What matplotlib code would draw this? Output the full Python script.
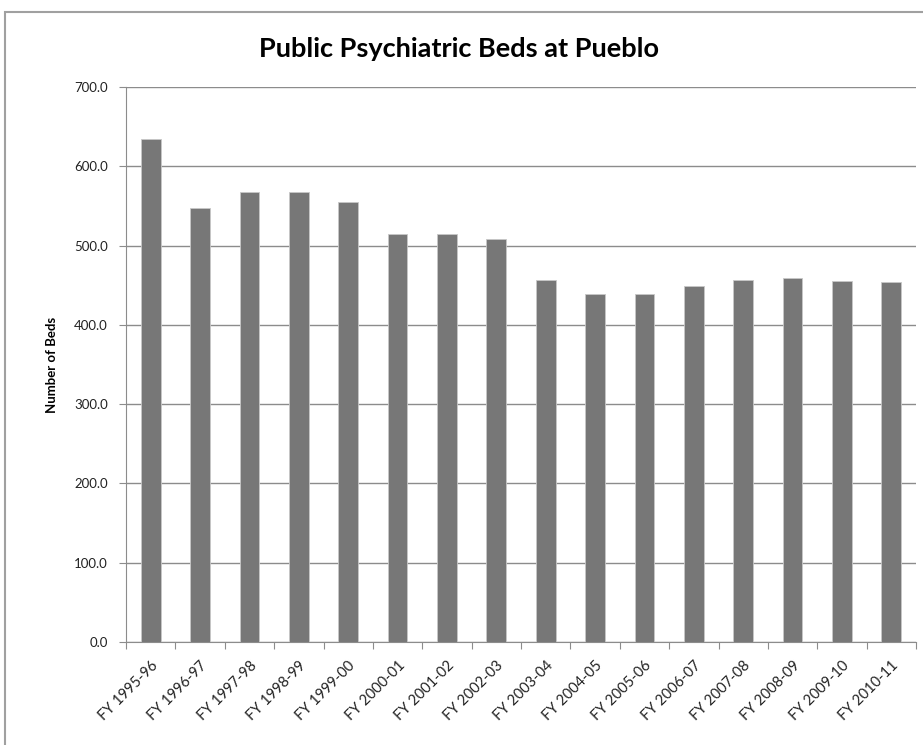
import numpy as np
import matplotlib
matplotlib.use('Agg')
import matplotlib.pyplot as plt
from matplotlib.patches import Rectangle

# data
years = ['FY 1995-96', 'FY 1996-97', 'FY 1997-98', 'FY 1998-99', 'FY 1999-00',
         'FY 2000-01', 'FY 2001-02', 'FY 2002-03', 'FY 2003-04', 'FY 2004-05',
         'FY 2005-06', 'FY 2006-07', 'FY 2007-08', 'FY 2008-09', 'FY 2009-10',
         'FY 2010-11']
beds = [635, 548, 568, 568, 555, 514, 514, 508, 457, 439, 439, 449, 457, 459, 455, 454]
yticks = [0, 100, 200, 300, 400, 500, 600, 700]

plt.rcParams['font.family'] = ['Lato', 'DejaVu Sans']

fig = plt.figure(figsize=(9.23, 7.45), dpi=100)
ax = fig.add_axes([126/923, 1 - 642/745, (916 - 126)/923, (642 - 87)/745])

# outer chart frame
fig.patches.append(Rectangle((5/923, -0.05), 1.2, (745 - 12)/745 + 0.05,
                             transform=fig.transFigure, fill=False,
                             edgecolor='#a0a0a0', linewidth=1.5))

x = np.arange(len(years))
ax.bar(x, beds, width=0.4, color='#777777', edgecolor='#c8c8c8', linewidth=0.6, zorder=3)

ax.set_xlim(-0.5, len(years) - 0.5)
ax.set_ylim(0, 700)
ax.set_yticks(yticks)
ax.set_yticklabels(['%.1f' % v for v in yticks], fontsize=9.5, color='#222222')
ax.yaxis.grid(True, color='#8c8c8c', linewidth=1, zorder=0)

# ticks between categories, labels at the centres
ax.set_xticks(np.arange(len(years) + 1) - 0.5)
ax.set_xticklabels([])
ax.set_xticks(x, minor=True)
ax.set_xticklabels(years, minor=True, rotation=45, ha='right',
                   rotation_mode='anchor', fontsize=10.5, color='#222222')
ax.tick_params(axis='x', which='minor', length=0, pad=12)
ax.tick_params(axis='x', which='major', length=5, color='#8c8c8c')
ax.tick_params(axis='y', length=5, color='#8c8c8c', pad=8)

for s in ['top', 'right']:
    ax.spines[s].set_visible(False)
for s in ['left', 'bottom']:
    ax.spines[s].set_color('#8c8c8c')

ax.set_ylabel('Number of Beds', fontsize=9.5, fontweight='bold', labelpad=12)
fig.text(0.497, 1 - 49/745, 'Public Psychiatric Beds at Pueblo', ha='center',
         va='center', fontsize=19.5, fontweight='bold')

fig.savefig('out.png', dpi=100)
